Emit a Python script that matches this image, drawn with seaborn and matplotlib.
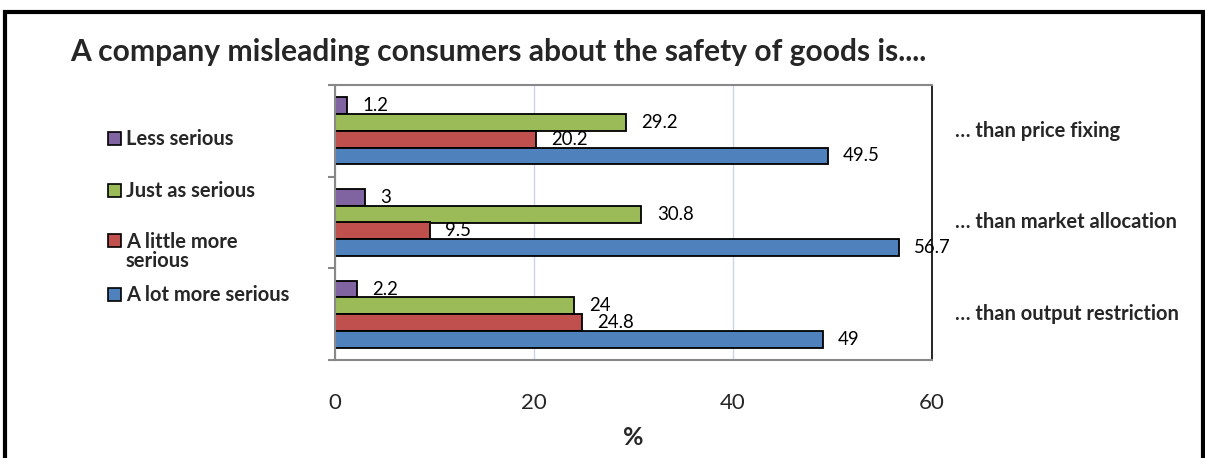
import matplotlib
matplotlib.use("Agg")
import matplotlib.pyplot as plt
import seaborn as sns
import pandas as pd
from matplotlib.patches import Rectangle
from matplotlib.transforms import blended_transform_factory

# dados
comparacoes = ["… than price fixing", "… than market allocation", "… than output restriction"]
niveis = ["Less serious", "Just as serious", "A little more serious", "A lot more serious"]
rotulos_legenda = ["Less serious", "Just as serious", "A little more\nserious", "A lot more serious"]
less_serious = [1.2, 3, 2.2]
just_as_serious = [29.2, 30.8, 24]
little_more = [20.2, 9.5, 24.8]
lot_more = [49.5, 56.7, 49]
cores = ["#8064A2", "#9BBB59", "#C0504D", "#4F81BD"]

df = pd.DataFrame({
    "comparacao": comparacoes * 4,
    "nivel": [n for n in niveis for _ in comparacoes],
    "valor": less_serious + just_as_serious + little_more + lot_more,
})

sns.set_style("white")
plt.rcParams["font.family"] = ["Lato", "DejaVu Sans"]

W, H = 1205, 458
fig = plt.figure(figsize=(W / 100, H / 100), dpi=100)
ax = fig.add_axes([335 / W, 1 - 360 / H, (932 - 335) / W, (360 - 85) / H])

sns.barplot(data=df, y="comparacao", x="valor", hue="nivel", order=comparacoes,
            hue_order=niveis, palette=cores, orient="h", width=0.73, saturation=1,
            edgecolor="black", linewidth=1.3, ax=ax, legend=False)

for cont in ax.containers:
    ax.bar_label(cont, fmt="%g", padding=11, fontsize=13.4, color="black")

ax.set_xlim(0, 60)
ax.set_ylim(2.5, -0.5)
ax.set_xticks([0, 20, 40, 60])
ax.set_xticklabels(["0", "20", "40", "60"], fontsize=16)
ax.tick_params(axis="x", direction="out", length=7, width=1.5, color="#888888", pad=17)
ax.set_yticks([-0.5, 0.5, 1.5, 2.5])
ax.set_yticklabels([])
ax.tick_params(axis="y", direction="out", length=5, width=1.5, color="#888888", left=True)
ax.xaxis.grid(True, color="#C9D6EA", linewidth=1)
ax.set_axisbelow(True)
ax.set_xlabel("%", fontsize=18, fontweight="bold", labelpad=9)
ax.set_ylabel("")

for lado in ["left", "bottom", "top"]:
    ax.spines[lado].set_color("#888888")
    ax.spines[lado].set_linewidth(1.5)
ax.spines["right"].set_color("black")
ax.spines["right"].set_linewidth(1.2)

# rótulos das categorias à direita
trans = blended_transform_factory(fig.transFigure, ax.transData)
for i, c in enumerate(comparacoes):
    ax.text(955 / W, i, c, transform=trans, ha="left", va="center", fontsize=14.5, fontweight="bold")

# legenda à esquerda (montada à mão: o quadrado fica na primeira linha do rótulo)
legenda_y = [138, 190, 241, 294]
for cor, rot, y in zip(cores, rotulos_legenda, legenda_y):
    fig.patches.append(Rectangle((108 / W, 1 - (y + 6.5) / H), 13 / W, 13 / H, transform=fig.transFigure,
                                 facecolor=cor, edgecolor="black", linewidth=1.2))
    for k, linha in enumerate(rot.split("\n")):
        fig.text(126 / W, 1 - (y + 7 + 19 * k) / H, linha, fontsize=14.5, fontweight="bold",
                 ha="left", va="baseline")

fig.text(70 / W, 1 - 52 / H, "A company misleading consumers about the safety of goods is....",
         fontsize=21.6, fontweight="bold", ha="left", va="center")

# moldura externa
fig.patches.append(Rectangle((5 / W, -0.1), 1198 / W, 1.1 - 12 / H, transform=fig.transFigure,
                             fill=False, edgecolor="black", linewidth=3))

fig.savefig("out.png", dpi=100)
